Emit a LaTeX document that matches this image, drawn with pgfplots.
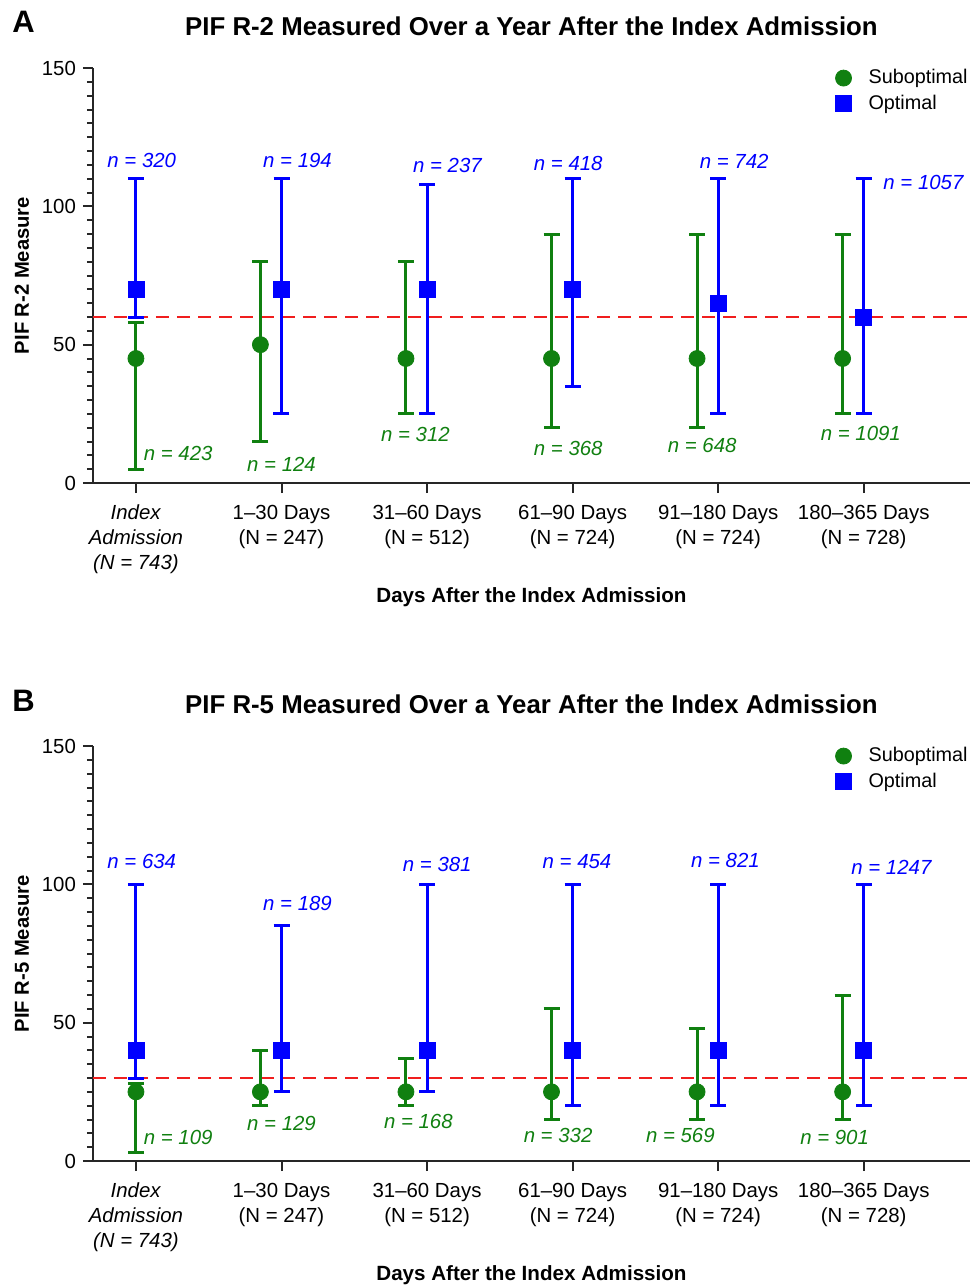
\documentclass[border=0pt]{standalone}
\usepackage{pgfplots}
\pgfplotsset{compat=1.18}
\usepackage{fontspec}
\setmainfont{Liberation Sans}

\definecolor{subgreen}{RGB}{16,128,16}
\definecolor{optblue}{RGB}{0,0,255}
\definecolor{refred}{RGB}{240,30,30}

\pgfplotsset{
  panel/.style={
    scale only axis, width=438.5pt, height=207.5pt,
    xmin=-0.295, xmax=5.73, ymin=0, ymax=150,
    axis lines=left, axis line style={-, line width=1pt, black!85},
    xtick={0,...,5}, ytick={0,50,100,150}, minor y tick num=9,
    tick align=outside, tick style={line width=1pt, black!85},
    major tick length=5pt, minor tick length=3pt,
    /pgf/number format/assume math mode=true,
    ticklabel style={font=\fontsize{10.2}{12.5}\selectfont},
    x tick label style={align=center, yshift=-2.5pt},
    xticklabels={{\textit{Index}\\\textit{Admission}\\\textit{(N = 743)}},
      {1–30 Days\\(N = 247)},{31–60 Days\\(N = 512)},{61–90 Days\\(N = 724)},
      {91–180 Days\\(N = 724)},{180–365 Days\\(N = 728)}},
    xlabel={Days After the Index Admission},
    xlabel style={at={(axis description cs:0.5,-0.2747)}, anchor=center,
      font=\bfseries\fontsize{10.3}{12}\selectfont},
    ylabel style={at={(axis description cs:-0.081,0.5)}, anchor=center,
      font=\bfseries\fontsize{10.1}{12}\selectfont},
    title style={at={(axis description cs:0.5,1)}, anchor=base, yshift=10.5pt,
      font=\bfseries\fontsize{12.9}{15}\selectfont},
    legend style={at={(1,1)}, anchor=north east, xshift=1pt, yshift=1.5pt,
      draw=none, fill=none,
      inner sep=0pt, row sep=0pt, font=\fontsize{9.9}{12}\selectfont,
      cells={anchor=west},
      /tikz/every odd column/.append style={column sep=6.5pt}},
    clip=false,
  },
  subopt/.style={subgreen, only marks, mark=*, mark size=4pt,
    error bars/.cd, y dir=both, y explicit,
    error bar style={line width=1.5pt, subgreen},
    error mark options={rotate=90, line width=1.5pt, mark size=4pt, subgreen}},
  opt/.style={optblue, only marks, mark=square*, mark size=4pt,
    error bars/.cd, y dir=both, y explicit,
    error bar style={line width=1.5pt, optblue},
    error mark options={rotate=90, line width=1.5pt, mark size=4pt, optblue}},
  refline/.style={refred, line width=1pt, dash pattern=on 6.5pt off 4pt, forget plot},
}

\begin{document}
\begin{tikzpicture}
\useasboundingbox (-46.5pt,-401.5pt) rectangle (438.5pt,241.5pt);

% panel A
\begin{axis}[panel,
  title={PIF R-2 Measured Over a Year After the Index Admission},
  ylabel={PIF R-2 Measure}]
\addplot[refline] coordinates {(-0.295,60) (5.73,60)};

\addplot[subopt] coordinates {
  (0,45)     += (0,13) -= (0,40)
  (0.855,50) += (0,30) -= (0,35)
  (1.855,45) += (0,35) -= (0,20)
  (2.855,45) += (0,45) -= (0,25)
  (3.855,45) += (0,45) -= (0,25)
  (4.855,45) += (0,45) -= (0,20)
};
\addlegendentry{Suboptimal}

\addplot[opt] coordinates {
  (0,70) += (0,40) -= (0,10)
  (1,70) += (0,40) -= (0,45)
  (2,70) += (0,38) -= (0,45)
  (3,70) += (0,40) -= (0,35)
  (4,65) += (0,45) -= (0,40)
  (5,60) += (0,50) -= (0,35)
};
\addlegendentry{Optimal}

\begin{scope}[font=\fontsize{10.2}{12}\selectfont\itshape]
\node[optblue] at (axis cs:0.04,116.7) {n = 320};
\node[optblue] at (axis cs:1.11,116.7) {n = 194};
\node[optblue] at (axis cs:2.14,114.6) {n = 237};
\node[optblue] at (axis cs:2.97,115.6) {n = 418};
\node[optblue] at (axis cs:4.11,116.3) {n = 742};
\node[optblue] at (axis cs:5.41,108.8) {n = 1057};
\node[subgreen] at (axis cs:0.29,10.5) {n = 423};
\node[subgreen] at (axis cs:1.0,6.9) {n = 124};
\node[subgreen] at (axis cs:1.92,17.7) {n = 312};
\node[subgreen] at (axis cs:2.97,12.6) {n = 368};
\node[subgreen] at (axis cs:3.89,13.4) {n = 648};
\node[subgreen] at (axis cs:4.98,18.0) {n = 1091};
\end{scope}
\end{axis}

% panel B
\begin{axis}[panel, at={(0pt,-339pt)},
  title={PIF R-5 Measured Over a Year After the Index Admission},
  ylabel={PIF R-5 Measure}]
\addplot[refline] coordinates {(-0.295,30) (5.73,30)};

\addplot[subopt] coordinates {
  (0,25)     += (0,3)  -= (0,22)
  (0.855,25) += (0,15) -= (0,5)
  (1.855,25) += (0,12) -= (0,5)
  (2.855,25) += (0,30) -= (0,10)
  (3.855,25) += (0,23) -= (0,10)
  (4.855,25) += (0,35) -= (0,10)
};
\addlegendentry{Suboptimal}

\addplot[opt] coordinates {
  (0,40) += (0,60) -= (0,10)
  (1,40) += (0,45) -= (0,15)
  (2,40) += (0,60) -= (0,15)
  (3,40) += (0,60) -= (0,20)
  (4,40) += (0,60) -= (0,20)
  (5,40) += (0,60) -= (0,20)
};
\addlegendentry{Optimal}

\begin{scope}[font=\fontsize{10.2}{12}\selectfont\itshape]
\node[optblue] at (axis cs:0.04,108.3) {n = 634};
\node[optblue] at (axis cs:1.11,93.1) {n = 189};
\node[optblue] at (axis cs:2.07,107.2) {n = 381};
\node[optblue] at (axis cs:3.03,108.3) {n = 454};
\node[optblue] at (axis cs:4.05,108.7) {n = 821};
\node[optblue] at (axis cs:5.19,106.2) {n = 1247};
\node[subgreen] at (axis cs:0.29,8.5) {n = 109};
\node[subgreen] at (axis cs:1.0,13.6) {n = 129};
\node[subgreen] at (axis cs:1.94,14.3) {n = 168};
\node[subgreen] at (axis cs:2.9,9.3) {n = 332};
\node[subgreen] at (axis cs:3.74,9.3) {n = 569};
\node[subgreen] at (axis cs:4.8,8.5) {n = 901};
\end{scope}
\end{axis}

\node[anchor=base west, inner sep=0pt, font=\bfseries\fontsize{15.5}{16}\selectfont] at (-40.5pt,225pt) {A};
\node[anchor=base west, inner sep=0pt, font=\bfseries\fontsize{15.5}{16}\selectfont] at (-40.5pt,-114pt) {B};
\end{tikzpicture}
\end{document}
